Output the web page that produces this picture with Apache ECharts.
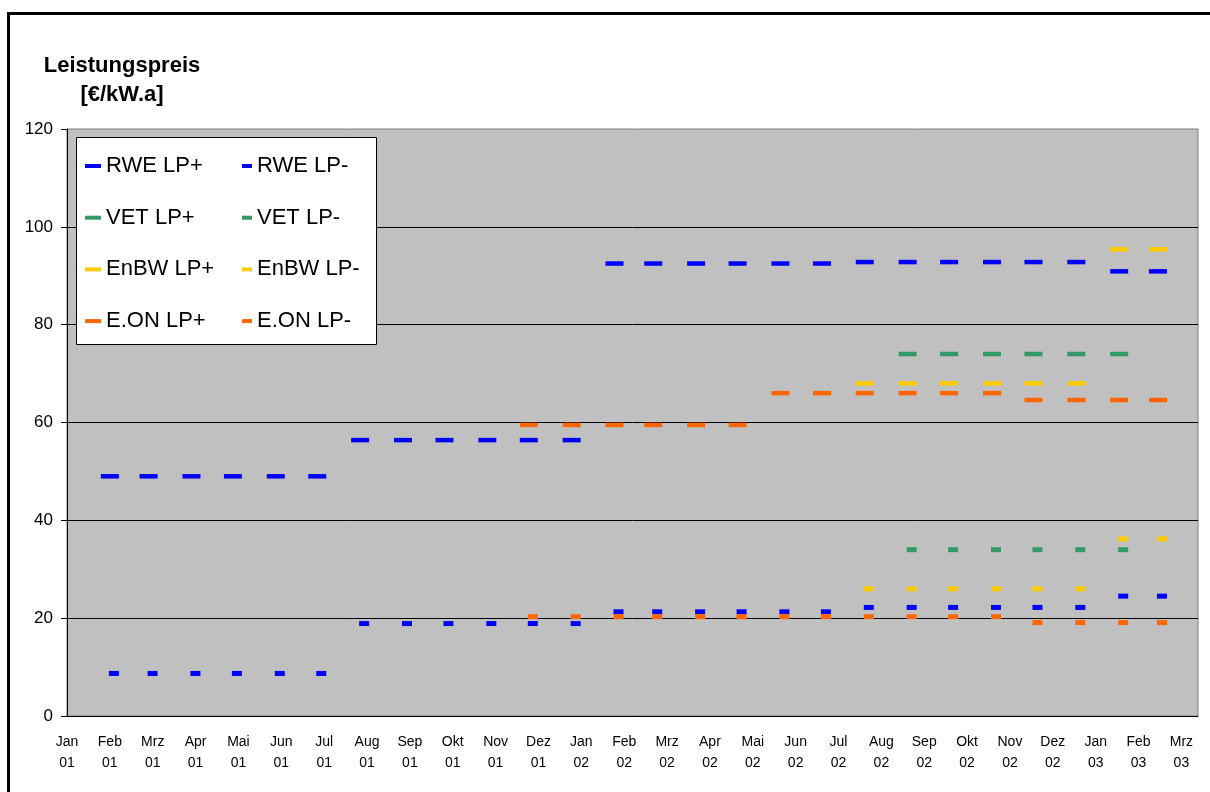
<!DOCTYPE html>
<html>
<head>
<meta charset="utf-8">
<script src="https://cdn.jsdelivr.net/npm/echarts@6/dist/echarts.min.js"></script>
<style>
html,body{margin:0;padding:0;background:#fff;}
#chart{width:1210px;height:792px;}
</style>
</head>
<body>
<div id="chart"></div>
<script>
// ---- data ----
const monthNames = ['Jan','Feb','Mrz','Apr','Mai','Jun','Jul','Aug','Sep','Okt','Nov','Dez'];
const dates = ['2001-02-01','2001-03-01','2001-04-01','2001-05-01','2001-06-01','2001-07-01',
               '2001-08-01','2001-09-01','2001-10-01','2001-11-01','2001-12-01','2002-01-01',
               '2002-02-01','2002-03-01','2002-04-01','2002-05-01','2002-06-01','2002-07-01',
               '2002-08-01','2002-09-01','2002-10-01','2002-11-01','2002-12-01','2003-01-01',
               '2003-02-01','2003-03-01'];
const rwePlus   = [49,49,49,49,49,49, 56.4,56.4,56.4,56.4,56.4,56.4, 92.5,92.5,92.5,92.5,92.5,92.5, 92.8,92.8,92.8,92.8,92.8,92.8, 90.9,90.9];
const rweMinus  = [8.7,8.7,8.7,8.7,8.7,8.7, 18.9,18.9,18.9,18.9,18.9,18.9, 21.3,21.3,21.3,21.3,21.3,21.3, 22.2,22.2,22.2,22.2,22.2,22.2, 24.5,24.5];
const vetPlus   = [null,null,null,null,null,null,null,null,null,null,null,null,null,null,null,null,null,null,null, 74,74,74,74,74,74, null];
const vetMinus  = [null,null,null,null,null,null,null,null,null,null,null,null,null,null,null,null,null,null,null, 34,34,34,34,34,34, null];
const enbwPlus  = [null,null,null,null,null,null,null,null,null,null,null,null,null,null,null,null,null,null, 68,68,68,68,68,68, 95.4,95.4];
const enbwMinus = [null,null,null,null,null,null,null,null,null,null,null,null,null,null,null,null,null,null, 26,26,26,26,26,26, 36.2,36.2];
const eonPlus   = [null,null,null,null,null,null,null,null,null,null, 59.5,59.5,59.5,59.5,59.5,59.5, 66,66,66,66,66,66, 64.6,64.6,64.6,64.6];
const eonMinus  = [null,null,null,null,null,null,null,null,null,null, 20.3,20.3,20.3,20.3,20.3,20.3,20.3,20.3,20.3,20.3,20.3,20.3, 19.1,19.1,19.1,19.1];
const yTicks = [0,20,40,60,80,100,120];

// ---- helpers ----
const BASE = Date.UTC(2001,0,1);
function dayOf(s){ const p = s.split('-').map(Number); return (Date.UTC(p[0],p[1]-1,p[2]) - BASE)/86400000; }
function pts(vals){ return dates.map((d,i)=> vals[i]==null ? null : [dayOf(d), vals[i]]).filter(Boolean); }
const FONT = 'Liberation Sans, Arial, sans-serif';

const colors = {RWE:'#0000FF', VET:'#339966', EnBW:'#FFCC00', 'E.ON':'#FF6600'};
function plusSeries(name, color, vals){
  return {name, type:'scatter', data:pts(vals), symbol:'rect', symbolSize:[18,4.5],
          itemStyle:{color, opacity:1}, emphasis:{disabled:true}};
}
function minusSeries(name, color, vals){
  return {name, type:'scatter', data:pts(vals), symbol:'rect', symbolSize:[10,5], symbolOffset:[4,0],
          itemStyle:{color, opacity:1}, emphasis:{disabled:true}};
}

const chart = echarts.init(document.getElementById('chart'), null, {renderer:'canvas'});
const legendCommon = {
  orient:'vertical', top:154, padding:0, icon:'rect', itemHeight:4, itemGap:27.7,
  selectedMode:false, textStyle:{fontSize:22, color:'#000', fontFamily:FONT, lineHeight:24}
};
chart.setOption({
  animation:false,
  backgroundColor:'#fff',
  textStyle:{fontFamily:FONT},
  graphic:[
    {type:'rect', z:0, silent:true, shape:{x:8.5, y:13.5, width:1400, height:1000}, style:{fill:'none', stroke:'#000', lineWidth:3}},
    {type:'text', z:10, x:122, y:51, silent:true,
     style:{text:'Leistungspreis\n[€/kW.a]', textAlign:'center', textVerticalAlign:'top',
            fontSize:22, fontWeight:'bold', fontFamily:FONT, lineHeight:29, fill:'#000'}},
    {type:'rect', z:3, silent:true, shape:{x:76.5, y:137.5, width:300, height:207}, style:{fill:'#fff', stroke:'#000', lineWidth:1}}
  ],
  legend:[
    Object.assign({}, legendCommon, {left:85, itemWidth:16, data:['RWE LP+','VET LP+','EnBW LP+','E.ON LP+'], z:5}),
    Object.assign({}, legendCommon, {left:242, itemWidth:10, data:['RWE LP-','VET LP-','EnBW LP-','E.ON LP-'], z:5})
  ],
  grid:{left:67, top:129, right:12, bottom:76, show:true, backgroundColor:'#C0C0C0', borderColor:'#808080', borderWidth:1},
  xAxis:{
    type:'value', min:0, max:818, interval:31,
    axisLine:{show:true, lineStyle:{color:'#000', width:1}},
    axisTick:{show:false},
    splitLine:{show:false},
    axisLabel:{
      color:'#000', fontSize:14, fontFamily:FONT, lineHeight:21, margin:16, showMaxLabel:false,
      formatter:function(v){ const dt = new Date(BASE + v*86400000); return monthNames[dt.getUTCMonth()] + '\n' + String(dt.getUTCFullYear()).slice(2); }
    }
  },
  yAxis:{
    type:'value', min:yTicks[0], max:yTicks[yTicks.length-1], interval:20,
    axisLine:{show:true, lineStyle:{color:'#000', width:1}},
    axisTick:{show:true, inside:false, length:6, lineStyle:{color:'#000'}},
    splitLine:{show:true, showMaxLine:false, lineStyle:{color:'#000', width:1}},
    axisLabel:{color:'#000', fontSize:17, fontFamily:FONT, margin:14}
  },
  series:[
    plusSeries('RWE LP+', colors.RWE, rwePlus),
    minusSeries('RWE LP-', colors.RWE, rweMinus),
    plusSeries('VET LP+', colors.VET, vetPlus),
    minusSeries('VET LP-', colors.VET, vetMinus),
    plusSeries('EnBW LP+', colors.EnBW, enbwPlus),
    minusSeries('EnBW LP-', colors.EnBW, enbwMinus),
    plusSeries('E.ON LP+', colors['E.ON'], eonPlus),
    minusSeries('E.ON LP-', colors['E.ON'], eonMinus)
  ]
});
</script>
</body>
</html>
